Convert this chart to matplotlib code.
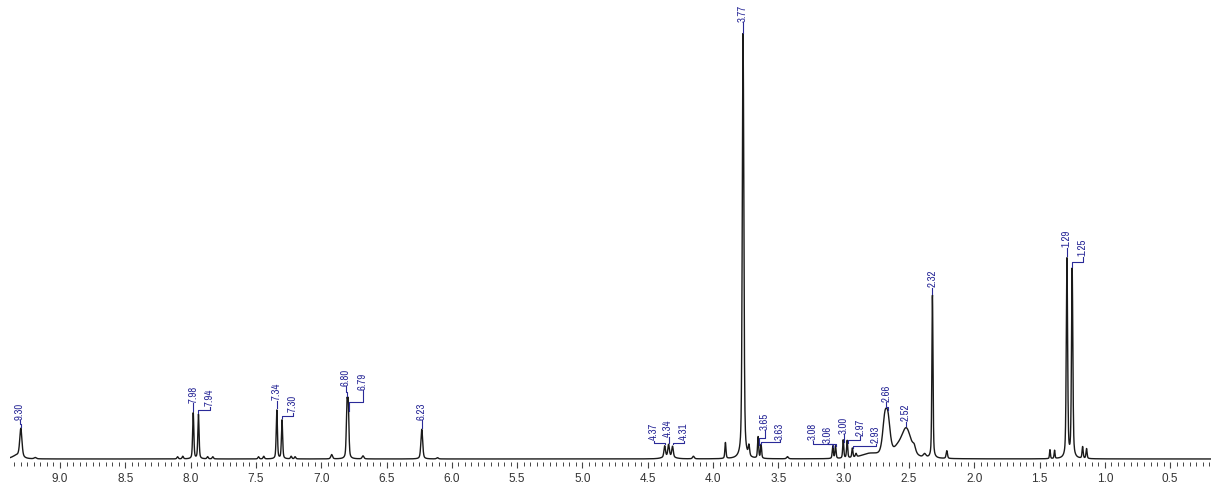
import numpy as np
import matplotlib.pyplot as plt
from matplotlib.ticker import MultipleLocator, FormatStrFormatter

# 1H NMR spectrum - peak list (ppm, height, half width)
peak_ppm = [9.33, 9.300, 9.19, 8.10, 8.06, 7.980, 7.940, 7.87, 7.83, 7.48, 7.44,
            7.340, 7.300, 7.23, 7.20, 6.92, 6.803, 6.793, 6.68, 6.230, 6.11,
            4.37, 4.34, 4.31, 4.34, 4.15, 3.905, 3.77, 3.725, 3.655, 3.632, 3.43,
            3.083, 3.062, 3.003, 2.973, 2.933, 2.905, 2.80, 2.685, 2.66, 2.59, 2.52,
            2.46, 2.38, 2.320, 2.21, 1.42, 1.385, 1.290, 1.250, 1.17, 1.14]
peak_height = [0.8, 6.6, 0.3, 0.5, 0.6, 10.7, 10.3, 0.5, 0.5, 0.5, 0.6,
               11.3, 9.0, 0.6, 0.5, 1.0, 11.6, 11.6, 0.7, 6.9, 0.3,
               2.6, 2.8, 2.5, 0.5, 0.6, 3.7, 99.0, 2.4, 5.0, 3.2, 0.5,
               2.9, 2.9, 4.3, 4.1, 2.2, 0.8, 1.1, 7.6, 7.4, 1.5, 6.8,
               1.2, 0.8, 38.0, 1.8, 2.1, 1.9, 46.5, 44.0, 2.7, 2.3]
peak_width = [0.04, 0.010, 0.01, 0.006, 0.006, 0.0055, 0.0055, 0.006, 0.006, 0.006, 0.006,
              0.0055, 0.0055, 0.006, 0.006, 0.008, 0.006, 0.006, 0.008, 0.008, 0.008,
              0.007, 0.007, 0.007, 0.05, 0.008, 0.005, 0.007, 0.006, 0.005, 0.005, 0.008,
              0.005, 0.005, 0.005, 0.005, 0.005, 0.006, 0.08, 0.02, 0.02, 0.04, 0.045,
              0.012, 0.012, 0.005, 0.006, 0.004, 0.004, 0.006, 0.006, 0.005, 0.005]

# labelled peaks: value, label position (ppm), label bottom (intensity)
label_ppm = [9.30, 7.98, 7.94, 7.34, 7.30, 6.80, 6.79, 6.23, 4.37, 4.34, 4.31, 3.77,
             3.65, 3.63, 3.08, 3.06, 3.00, 2.97, 2.93, 2.66, 2.52, 2.32, 1.29, 1.25]
label_x = [9.31, 7.98, 7.851, 7.34, 7.216, 6.81, 6.68, 6.23, 4.452, 4.345, 4.222, 3.77,
           3.602, 3.487, 3.234, 3.119, 2.997, 2.874, 2.752, 2.675, 2.522, 2.32, 1.29, 1.167]
label_y = [9.0, 13.0, 12.1, 13.5, 10.7, 16.9, 16.0, 9.0, 4.2, 5.1, 4.2, 101.3,
           6.7, 4.4, 4.2, 3.7, 5.8, 5.3, 3.5, 13.2, 8.6, 39.7, 49.0, 46.9]

lorentz_frac = 0.45

ppm = np.linspace(9.383, 0.187, 8000)
spec = np.zeros_like(ppm)
for p, h, w in zip(peak_ppm, peak_height, peak_width):
    d = (ppm - p) / w
    spec += h * (lorentz_frac / (1 + d**2) + (1 - lorentz_frac) * np.exp(-np.log(2) * d**2))

fig = plt.figure(figsize=(12.11, 4.86), dpi=100)
ax = fig.add_axes([10 / 1211, 24 / 486, 1201 / 1211, 462 / 486])

ax.plot(ppm, spec, color='#1a1a1a', lw=1.0)

blue = '#2a2a98'
for v, tx, ty in zip(label_ppm, label_x, label_y):
    top = np.interp(v, ppm[::-1], spec[::-1]) + 0.4
    if abs(tx - v) < 0.005:
        ax.plot([v, v], [top, ty], color=blue, lw=0.8)
    else:
        ky = top + 0.45 * (ty - top)
        ax.plot([v, v, tx, tx], [top, ky, ky, ty], color=blue, lw=0.8)
    ax.text(tx, ty + 0.1, f'{v:.2f}', rotation=90, ha='center', va='bottom',
            fontsize=7.8, color=blue, family=['Archivo Narrow', 'DejaVu Sans'])

ax.set_xlim(9.383, 0.187)
ax.set_ylim(-0.7, 106.5)
ax.xaxis.set_major_locator(MultipleLocator(0.5))
ax.xaxis.set_minor_locator(MultipleLocator(0.05))
ax.xaxis.set_major_formatter(FormatStrFormatter('%.1f'))
ax.tick_params(axis='x', which='major', length=4, width=0.8, color='#444444',
               pad=4, labelsize=8.5, labelcolor='#333333')
ax.tick_params(axis='x', which='minor', length=3, width=0.7, color='#444444')
for lbl in ax.get_xticklabels():
    lbl.set_family(['Liberation Sans', 'DejaVu Sans'])
ax.set_yticks([])
for s in ax.spines.values():
    s.set_visible(False)

fig.savefig('out.png', dpi=100)
